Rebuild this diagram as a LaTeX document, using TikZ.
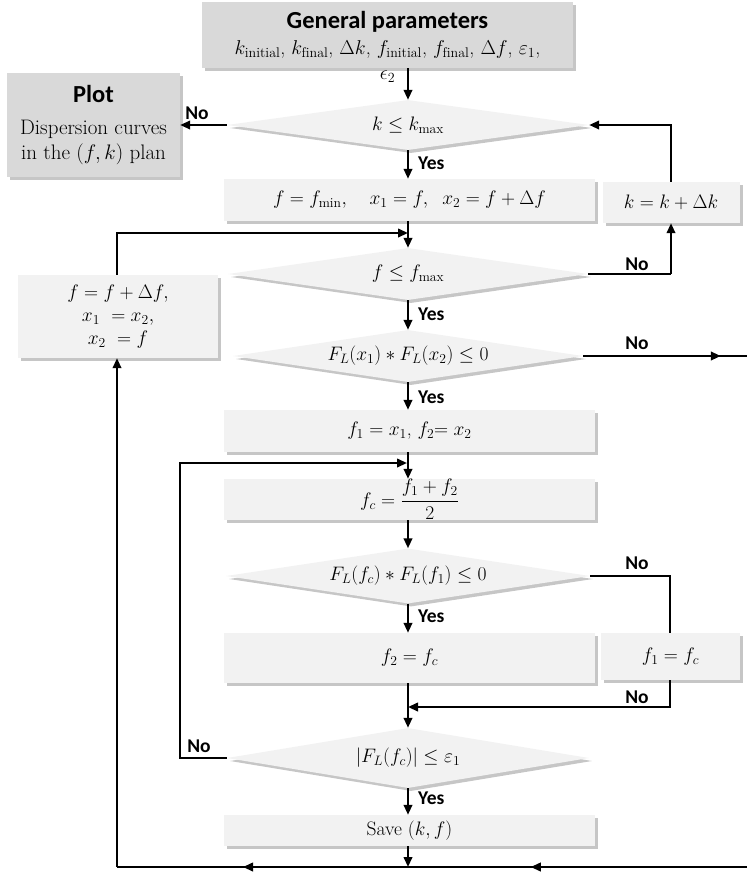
\RequirePackage{fix-cm}
\documentclass[tikz,border=0pt]{standalone}
\usepackage{fontspec}
\usepackage{amsmath}
\newfontfamily\lab{Carlito}
\usetikzlibrary{shapes.geometric,shadows,arrows.meta,decorations.markings}
\definecolor{boxgray}{HTML}{F2F2F2}
\definecolor{darkbox}{HTML}{D9D9D9}
\begin{document}
\begin{tikzpicture}[x=1pt,y=-1pt,
  shad/.style={drop shadow={shadow xshift=3pt,shadow yshift=-3pt,fill=black!50,opacity=0.45}},
  procbox/.style={rectangle,fill=boxgray,inner sep=0pt,shad,font=\fontsize{19.5}{23}\selectfont,align=center},
  headbox/.style={rectangle,fill=darkbox,inner sep=0pt,shad,align=center},
  decbox/.style={diamond,aspect=7,inner sep=0pt,fill=boxgray,shad,font=\fontsize{19.5}{23}\selectfont},
  ln/.style={line width=2.2pt,black},
  arr/.style={ln,-{Triangle[length=10pt,width=8.5pt]}},
  midarr/.style={postaction={decorate},decoration={markings,mark=at position #1 with {\arrow{Triangle[length=10pt,width=8.5pt]}}}},
  lbl/.style={font=\lab\bfseries\fontsize{19.5}{22}\selectfont,inner sep=0pt}
]
\useasboundingbox (0,0) rectangle (747,873);

% header boxes
\node[headbox,minimum width=371pt,minimum height=66pt,font=\fontsize{20}{23}\selectfont] (gp) at (387.5,35)
  {{\lab\bfseries\fontsize{24.5}{27}\selectfont General parameters}\\[3pt]
   $k_{\mathrm{initial}}$, $k_{\mathrm{final}}$, $\Delta k$, $f_{\mathrm{initial}}$, $f_{\mathrm{final}}$, $\Delta f$, $\varepsilon_1$,};
\node[font=\fontsize{20}{23}\selectfont,inner sep=0pt] (gpe) at (387.5,77) {$\epsilon_2$};
\node[headbox,minimum width=173pt,minimum height=104pt,font=\fontsize{21}{25}\selectfont] (plot) at (93.5,125)
  {{\lab\bfseries\fontsize{24.5}{27}\selectfont Plot}\\[7pt] Dispersion curves\\ in the $(f,k)$ plan};

% decisions
\node[decbox,minimum width=362pt,minimum height=50pt] (d1) at (408,125) {$k \le k_{\max}$};
\node[decbox,minimum width=360pt,minimum height=52pt] (d2) at (408,274) {$f \le f_{\max}$};
\node[decbox,minimum width=350pt,minimum height=52pt] (d3) at (408,356) {$F_L(x_1) * F_L(x_2) \le 0$};
\node[decbox,minimum width=364pt,minimum height=55pt] (d4) at (408,576) {$F_L(f_c) * F_L(f_1) \le 0$};
\node[decbox,minimum width=362pt,minimum height=60pt] (d5) at (408,758) {$|F_L(f_c)| \le \varepsilon_1$};

% process boxes
\node[procbox,minimum width=371pt,minimum height=42pt] (b2) at (409.5,200) {$f = f_{\min},\quad x_1 = f,\;\; x_2 = f + \Delta f$};
\node[procbox,minimum width=137pt,minimum height=41pt] (bk) at (671,202.5) {$k = k + \Delta k$};
\node[procbox,minimum width=200pt,minimum height=83pt] (bl) at (118,316.5) {$f = f + \Delta f,$\\ $x_1\ = x_2,$\\ $x_2\ = f$};
\node[procbox,minimum width=371pt,minimum height=42pt] (b3) at (409.5,431) {$f_1 = x_1$, $f_2{=}\; x_2$};
\node[procbox,minimum width=371pt,minimum height=41pt] (b4) at (409.5,499.5) {$f_c = \dfrac{f_1 + f_2}{2}$};
\node[procbox,minimum width=371pt,minimum height=50pt] (b5) at (409.5,658) {$f_2 = f_c$};
\node[procbox,minimum width=139pt,minimum height=47pt] (bf) at (670.5,656.5) {$f_1 = f_c$};
\node[procbox,minimum width=371pt,minimum height=31pt] (b6) at (409.5,830.5) {Save $(k,f)$};

% helper coordinates
\coordinate (j1) at (408,233);
\coordinate (j2) at (407,463);
\coordinate (j3) at (408,707);
\coordinate (rt) at (749,356);
\coordinate (rb) at (749,867);
\coordinate (bj) at (408,867);
\coordinate (lb) at (117,867);
\coordinate (kc) at (671,274);
\coordinate (fc) at (670,577);
\coordinate (lc) at (180,463);

% main flow
\draw[arr] (d1.north |- gp.south) -- (d1.north);
\draw[arr] (d1.west) -- (plot.east);
\draw[arr] (d1.south) -- (b2.north -| d1.south);
\draw[arr] (b2.south -| d2.north) -- (d2.north);
\draw[ln] (d2.east) -- (d2.east -| kc);
\draw[arr] (d2.east -| kc) -- (bk.south -| kc);
\draw[arr] (bk.north -| kc) -- (kc |- d1.east) -- (d1.east);
\draw[arr] (bl.north -| lb) -- (lb |- j1) -- (j1);
\draw[arr] (d2.south) -- (d3.north);
\draw[ln,midarr=0.83] (d3.east) -- (rt);
\draw[ln] (rt) -- (rb);
\draw[ln,midarr=0.64] (rb) -- (bj);
\draw[ln,midarr=0.567] (bj) -- (lb);
\draw[arr] (lb) -- (bl.south -| lb);
\draw[arr] (d3.south) -- (b3.north -| d3.south);
\draw[arr] (b3.south -| d3.south) -- (b4.north -| d3.south);
\draw[arr] (b4.south -| d4.north) -- (d4.north);
\draw[ln] (d4.east) -- (d4.east -| fc) -- (bf.north -| fc);
\draw[arr] (bf.south -| fc) -- (fc |- j3) -- (j3);
\draw[arr] (d4.south) -- (b5.north -| d4.south);
\draw[arr] (b5.south -| d5.north) -- (d5.north);
\draw[arr] (d5.west) -- (d5.west -| lc) -- (lc) -- (j2);
\draw[arr] (d5.south) -- (b6.north -| d5.south);
\draw[arr] (b6.south -| bj) -- (bj);

% labels
\node[lbl] (n1) at (197,113) {No};
\node[lbl,anchor=west] (y1) at (418,163) {Yes};
\node[lbl] (n2) at (637,264) {No};
\node[lbl,anchor=west] (y2) at (418,314) {Yes};
\node[lbl] (n3) at (637,343) {No};
\node[lbl,anchor=west] (y3) at (418,397) {Yes};
\node[lbl] (n4) at (637,563) {No};
\node[lbl,anchor=west] (y4) at (418,616) {Yes};
\node[lbl] (n5) at (637,697) {No};
\node[lbl] (n6) at (199,746) {No};
\node[lbl,anchor=west] (y5) at (418,798) {Yes};
\end{tikzpicture}
\end{document}
